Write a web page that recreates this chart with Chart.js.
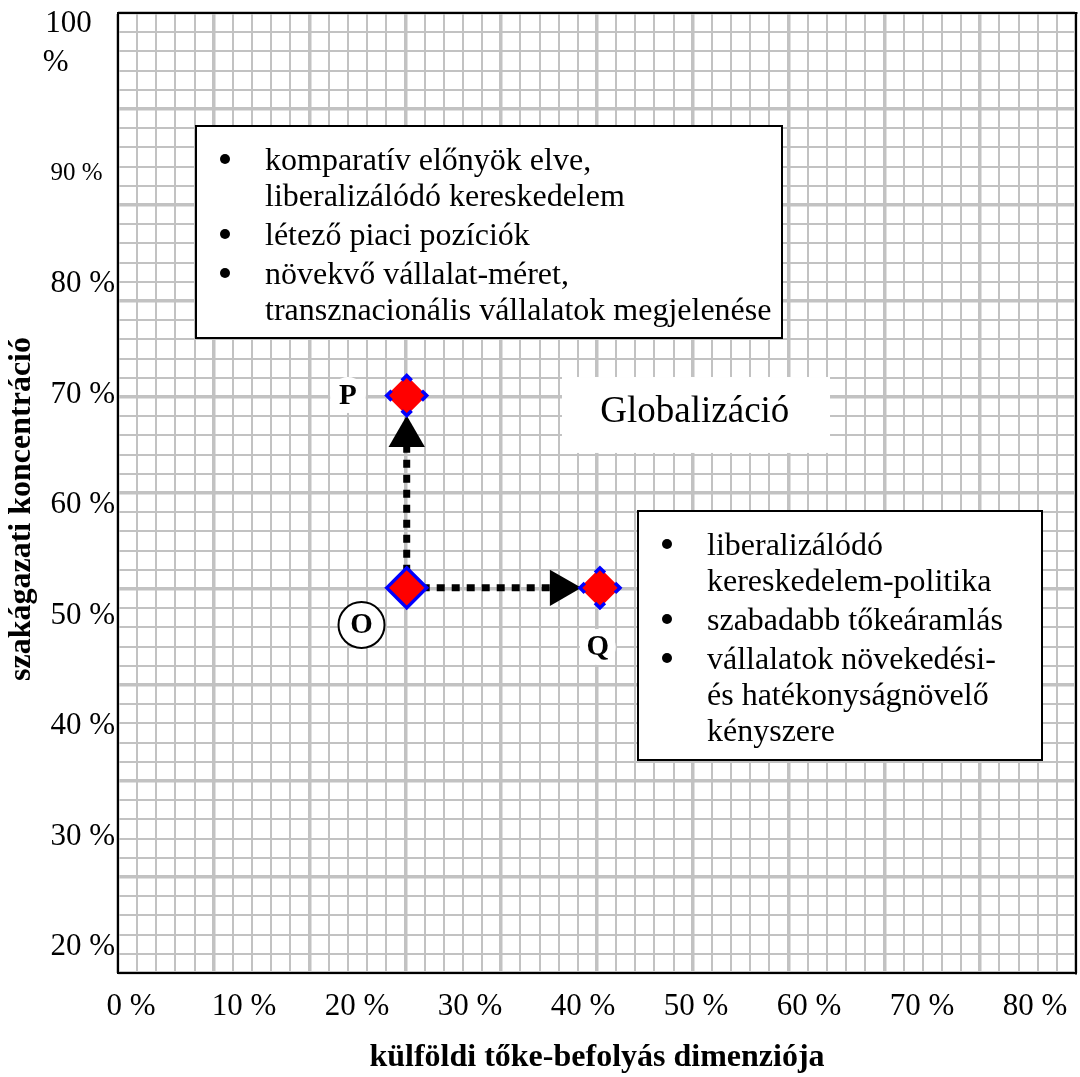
<!DOCTYPE html>
<html>
<head>
<meta charset="utf-8">
<script src="https://cdn.jsdelivr.net/npm/chart.js@4/dist/chart.umd.min.js"></script>
<style>
  html, body { margin: 0; padding: 0; background: #ffffff; }
  #c { display: block; }
</style>
</head>
<body>
<canvas id="c" width="1080" height="1077"></canvas>
<script>
// ---------------- data ----------------
const xTickValues = [0, 10, 20, 30, 40, 50, 60, 70, 80];
const yTickValues = [20, 30, 40, 50, 60, 70, 80, 90, 100];
const pointNames = ['O', 'P', 'Q'];
const pointX = [24.4, 24.4, 41.5];
const pointY = [52.5, 69.9, 52.5];
const arrowX = [24.4, 38.0];
const arrowY = [66.2, 52.5];
const arrowAngle = [0, 90];
const xTitle = 'külföldi tőke-befolyás dimenziója';
const yTitle = 'szakágazati koncentráció';
const regionLabel = 'Globalizáció';
const box1Items = [
  ['komparatív előnyök elve,', 'liberalizálódó kereskedelem'],
  ['létező piaci pozíciók'],
  ['növekvő vállalat-méret,', 'transznacionális vállalatok megjelenése']
];
const box2Items = [
  ['liberalizálódó', 'kereskedelem-politika'],
  ['szabadabb tőkeáramlás'],
  ['vállalatok növekedési-', 'és hatékonyságnövelő', 'kényszere']
];

// ---------------- layout / style ----------------
const SERIF = '"Liberation Serif", "Times New Roman", serif';
Chart.defaults.font.family = SERIF;
Chart.defaults.color = '#000000';

const X_MIN = -1.15, X_MAX = 83.63;
const Y_MIN = 17.65, Y_MAX = 104.52;

const boxes = [
  { x0: 5.75, x1: 57.61, y0: 94.3, y1: 75.11, items: box1Items },
  { x0: 44.87, x1: 80.62, y0: 59.46, y1: 36.92, items: box2Items }
];
const regionBox = { x0: 38.14, x1: 61.86, y0: 71.58, y1: 64.71, tx: 49.9, ty: 68.42 };
const nameLabels = [
  { text: pointNames[0], x: 20.4, y: 49.14, ring: true },
  { text: pointNames[1], x: 19.2, y: 69.95, ring: false },
  { text: pointNames[2], x: 41.3, y: 47.15, ring: false }
];

const overlay = {
  id: 'overlay',
  beforeDatasetDraw(chart, args) {
    const ds = chart.data.datasets[args.index];
    if (ds.dashBorder) { chart.ctx.save(); chart.ctx.setLineDash(ds.dashBorder); }
  },
  afterDatasetDraw(chart, args) {
    const ds = chart.data.datasets[args.index];
    if (ds.dashBorder) chart.ctx.restore();
  },
  beforeDatasetsDraw(chart) {
    const ctx = chart.ctx, sx = chart.scales.x, sy = chart.scales.y;
    ctx.save();
    // region label box
    {
      const l = sx.getPixelForValue(regionBox.x0), r = sx.getPixelForValue(regionBox.x1);
      const t = sy.getPixelForValue(regionBox.y0), b = sy.getPixelForValue(regionBox.y1);
      ctx.fillStyle = '#ffffff';
      ctx.fillRect(l, t, r - l, b - t);
      ctx.fillStyle = '#000000';
      ctx.font = '37px ' + SERIF;
      ctx.textAlign = 'center';
      ctx.textBaseline = 'middle';
      ctx.fillText(regionLabel, sx.getPixelForValue(regionBox.tx), sy.getPixelForValue(regionBox.ty));
    }
    // bullet boxes
    for (const bx of boxes) {
      const l = Math.round(sx.getPixelForValue(bx.x0)), r = Math.round(sx.getPixelForValue(bx.x1));
      const t = Math.round(sy.getPixelForValue(bx.y0)), b = Math.round(sy.getPixelForValue(bx.y1));
      ctx.fillStyle = '#ffffff';
      ctx.fillRect(l, t, r - l, b - t);
      ctx.strokeStyle = '#000000';
      ctx.lineWidth = 2;
      ctx.strokeRect(l, t, r - l, b - t);
      ctx.fillStyle = '#000000';
      ctx.font = '32px ' + SERIF;
      ctx.textBaseline = 'alphabetic';
      let yy = t + 44;
      bx.items.forEach((lines, gi) => {
        if (gi > 0) yy += 39;
        lines.forEach((line, li) => {
          if (li > 0) yy += 36;
          if (li === 0) {
            ctx.beginPath();
            ctx.arc(l + 29, yy - 11, 5, 0, Math.PI * 2);
            ctx.fill();
          }
          ctx.textAlign = 'left';
          ctx.fillText(line, l + 69, yy);
        });
      });
    }
    ctx.restore();
  },
  afterDatasetsDraw(chart) {
    const ctx = chart.ctx, sx = chart.scales.x, sy = chart.scales.y;
    ctx.save();
    for (const nl of nameLabels) {
      const px = sx.getPixelForValue(nl.x), py = sy.getPixelForValue(nl.y);
      ctx.beginPath();
      ctx.arc(px, py, nl.ring ? 23 : 18, 0, Math.PI * 2);
      ctx.fillStyle = '#ffffff';
      ctx.fill();
      if (nl.ring) { ctx.strokeStyle = '#000000'; ctx.lineWidth = 2; ctx.stroke(); }
      ctx.fillStyle = '#000000';
      ctx.font = 'bold 29px ' + SERIF;
      ctx.textAlign = 'center';
      ctx.textBaseline = 'middle';
      ctx.fillText(nl.text, px, py + 1);
    }
    ctx.restore();
  }
};

const gridCells = Array.from({ length: 51 }, (_, i) => ({ value: i }));
const gridStyle = {
  color: '#c2c2c2',
  lineWidth: (c) => (c.tick && c.tick.value % 5 === 0 ? 3.5 : 2),
  drawTicks: false
};
const noPad = (s) => { s.paddingTop = 0; s.paddingBottom = 0; s.paddingLeft = 0; s.paddingRight = 0; };
const yLabel = (v) => {
  if (v === 100) return ['100\u2002 ', '%\u2002\u2002\u2002', ''];
  if (v === 90) return v + ' %\u2002';
  return v + ' %';
};

new Chart(document.getElementById('c'), {
  type: 'scatter',
  data: {
    datasets: [
      {
        label: 'O',
        data: [{ x: pointX[0], y: pointY[0] }],
        pointStyle: 'rectRot', pointRadius: 20,
        pointBackgroundColor: '#ff0000', pointBorderColor: '#0000ff', pointBorderWidth: 3.5
      },
      {
        label: 'P, Q',
        data: [1, 2].map(i => ({ x: pointX[i], y: pointY[i] })),
        pointStyle: 'rectRot', pointRadius: 20,
        pointBackgroundColor: '#ff0000', pointBorderColor: '#0000ff', pointBorderWidth: 3.5,
        dashBorder: [7, 14.3, 7, 0]
      },
      {
        label: 'arrowheads',
        data: arrowX.map((v, i) => ({ x: v, y: arrowY[i] })),
        pointStyle: 'triangle', pointRadius: 21, pointRotation: arrowAngle,
        pointBackgroundColor: '#000000', pointBorderColor: '#000000', pointBorderWidth: 0
      },
      {
        label: 'O-P',
        data: [{ x: pointX[0], y: pointY[0] }, { x: arrowX[0], y: arrowY[0] }],
        showLine: true, borderColor: '#000000', borderWidth: 7, borderDash: [8, 7],
        borderCapStyle: 'butt', pointRadius: 0
      },
      {
        label: 'O-Q',
        data: [{ x: pointX[0], y: pointY[0] }, { x: arrowX[1], y: arrowY[1] }],
        showLine: true, borderColor: '#000000', borderWidth: 7, borderDash: [8, 7],
        borderCapStyle: 'butt', pointRadius: 0
      }
    ]
  },
  options: {
    responsive: false,
    animation: false,
    devicePixelRatio: 1,
    events: [],
    layout: { padding: { top: 13, right: 4, bottom: 0, left: 0 }, autoPadding: false },
    plugins: { legend: { display: false }, tooltip: { enabled: false } },
    scales: {
      x: {
        type: 'linear', position: 'bottom', min: X_MIN, max: X_MAX,
        afterBuildTicks: (s) => { s.ticks = xTickValues.map(v => ({ value: v })); },
        afterFit: (s) => { s.height = 104; noPad(s); },
        ticks: { callback: (v) => v + ' %', font: { size: 31 }, padding: 7, maxRotation: 0, autoSkip: false, color: '#000' },
        grid: { display: false },
        border: { display: true, color: '#000000', width: 2 },
        title: { display: true, text: xTitle, font: { size: 32, weight: 'bold' }, padding: { top: 0, bottom: 0 }, color: '#000' }
      },
      y: {
        type: 'linear', position: 'left', min: Y_MIN, max: Y_MAX,
        afterBuildTicks: (s) => { s.ticks = yTickValues.map(v => ({ value: v })); },
        afterFit: (s) => { s.width = 118; noPad(s); },
        ticks: {
          callback: yLabel,
          font: (c) => ({ size: c.tick && c.tick.value === 90 ? 25 : 31, lineHeight: 1.25 }),
          padding: -5, autoSkip: false, color: '#000'
        },
        grid: { display: false },
        border: { display: true, color: '#000000', width: 2 },
        title: { display: true, text: yTitle + '\u2002\u2002', font: { size: 32, weight: 'bold' }, padding: { top: 3, bottom: 0 }, color: '#000' }
      },
      xg: {
        type: 'linear', position: 'top', min: 0, max: 50,
        afterBuildTicks: (s) => { s.ticks = gridCells.map(t => ({ value: t.value })); },
        afterFit: (s) => { s.height = 0; noPad(s); },
        ticks: { display: false },
        grid: gridStyle,
        border: { display: true, color: '#000000', width: 2 }
      },
      yg: {
        type: 'linear', position: 'right', min: 0, max: 50,
        afterBuildTicks: (s) => { s.ticks = gridCells.map(t => ({ value: t.value })); },
        afterFit: (s) => { s.width = 0; noPad(s); },
        ticks: { display: false },
        grid: gridStyle,
        border: { display: true, color: '#000000', width: 2 }
      }
    }
  },
  plugins: [overlay]
});
</script>
</body>
</html>
